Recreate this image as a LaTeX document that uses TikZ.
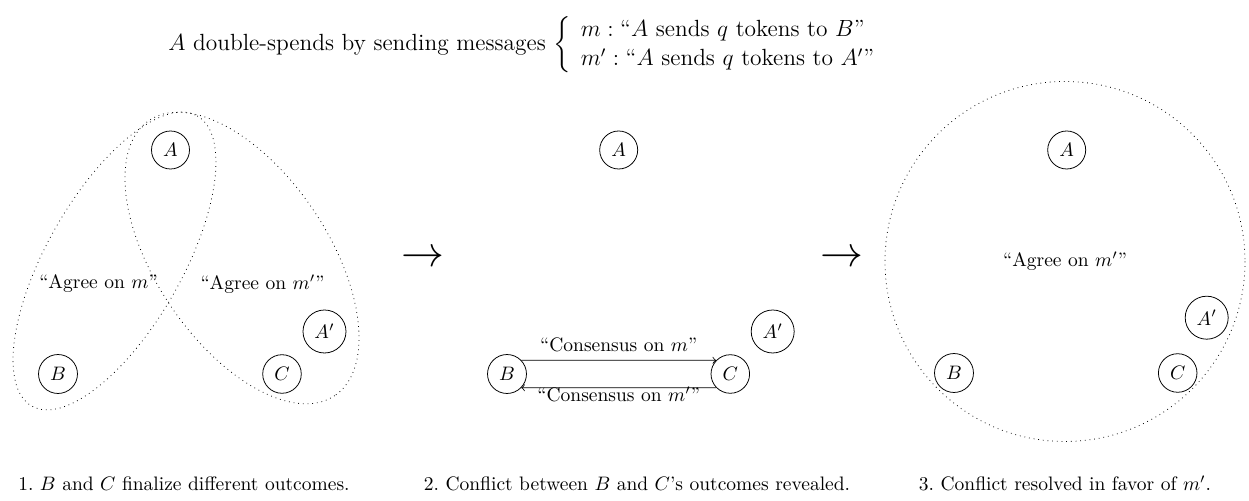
\documentclass[tikz,border=0pt]{standalone}
\usepackage{graphicx}
\usepackage{amsmath}
\begin{document}
\begin{tikzpicture}[x=0.5128pt, y=-0.5128pt,
  agent/.style={circle, draw, inner sep=3.33pt},
  grp/.style={dotted},
  lbl/.style={inner sep=0pt},
  captext/.style={anchor=base, inner sep=0pt},
  bigarrow/.style={inner sep=0pt}]
\useasboundingbox (0,0) rectangle (1249,501);

% title
\node[anchor=base west, inner sep=0pt] (title) at (168,51) {\fontsize{12}{15.2}\selectfont $A$ double-spends by sending messages $\left\{\begin{array}{l} m : \text{“$A$ sends $q$ tokens to $B$”}\\ m' : \text{“$A$ sends $q$ tokens to $A'$”}\end{array}\right.$};

% panel 1
\node[agent] (A1) at (170.5,150) {$A$};
\node[agent] (B1) at (58,374) {$B$};
\node[agent] (C1) at (282,374) {$C$};
\node[agent] (Ap1) at (324.5,331.5) {$A'$};
\draw[grp, shift={(114.5,261)}, rotate=60.3] (0,0) ellipse (167 and 67.6);
\draw[grp, shift={(242,258)}, rotate=-56] (0,0) ellipse (166 and 86);
\node[lbl] (l1) at (98.5,284) {“Agree on $m$”};
\node[lbl] (l2) at (262.5,284) {“Agree on $m'$”};

% arrows between panels
\node[bigarrow] (arr1) at (423,259) {\scalebox{2.2}{$\rightarrow$}};
\node[bigarrow] (arr2) at (841.5,259) {\scalebox{2.2}{$\rightarrow$}};

% panel 2
\node[agent] (A2) at (618.7,150) {$A$};
\node[agent] (B2) at (507,374) {$B$};
\node[agent] (C2) at (730.3,374) {$C$};
\node[agent] (Ap2) at (772.7,331.5) {$A'$};
\draw[->] (B2.44) -- (C2.136) node[midway, anchor=base, yshift=4.5pt] {“Consensus on $m$”};
\draw[->] (C2.-136) -- (B2.-44) node[midway, anchor=base, yshift=-7.1pt] {“Consensus on $m'$”};

% panel 3
\node[agent] (A3) at (1066.7,150) {$A$};
\node[agent] (B3) at (954,373) {$B$};
\node[agent] (C3) at (1177.7,373) {$C$};
\node[agent] (Ap3) at (1206.7,317.7) {$A'$};
\draw[grp] (1065,261.5) circle (180);
\node[lbl] (l3) at (1065,261.5) {“Agree on $m'$”};

% captions
\node[captext] (cap1) at (184,491) {1.~$B$ and $C$ finalize different outcomes.};
\node[captext] (cap2) at (637,491) {2.~Conflict between $B$ and $C$’s outcomes revealed.};
\node[captext] (cap3) at (1065,491) {3.~Conflict resolved in favor of $m'$.};
\end{tikzpicture}
\end{document}
